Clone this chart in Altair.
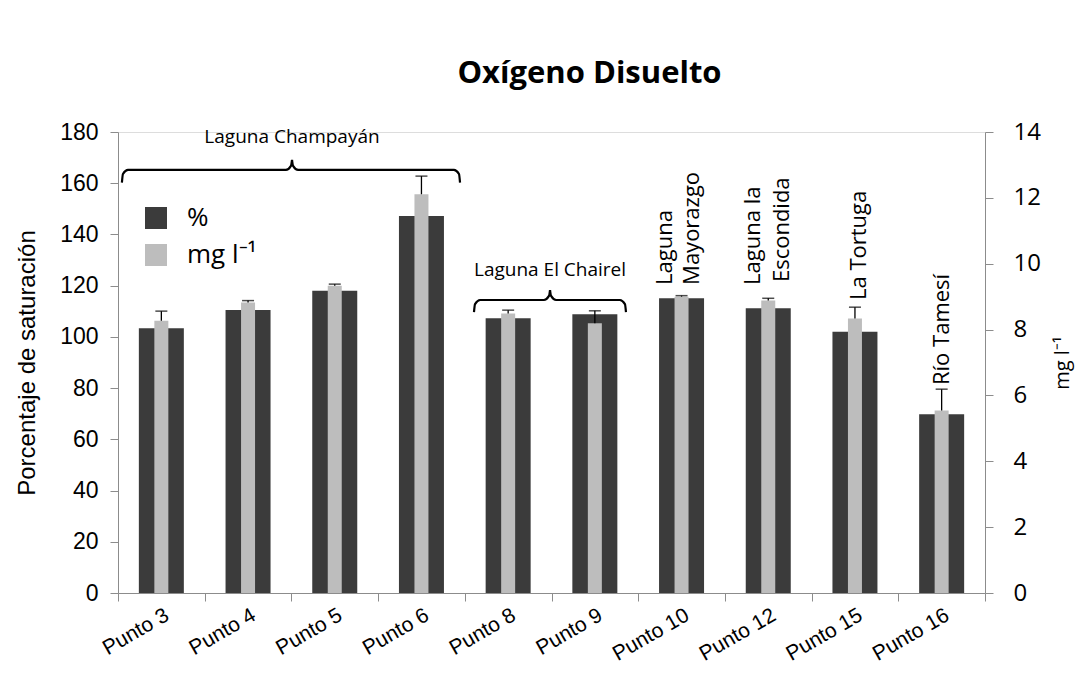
import altair as alt
import pandas as pd

puntos = ["Punto 3", "Punto 4", "Punto 5", "Punto 6", "Punto 8",
          "Punto 9", "Punto 10", "Punto 12", "Punto 15", "Punto 16"]
pct = [103.4, 110.5, 118.0, 147.2, 107.3, 108.8, 115.1, 111.2, 102.0, 69.8]
mg = [8.27, 8.82, 9.33, 12.11, 8.49, 8.19, 9.00, 8.88, 8.34, 5.54]
mg_err = [0.29, 0.06, 0.05, 0.55, 0.10, 0.38, 0.03, 0.07, 0.34, 0.65]

series = ["%", "mg l\u207b\u00b9"]
colors = ["#3b3b3b", "#bdbdbd"]

# braces: (left x, mid x, right x, line y, hook y, tip y) in category-index / % units
braces = [
    (-0.455, 1.507, 3.445, 165.2, 160.2, 169.1),
    (3.606, 4.483, 5.359, 114.4, 109.7, 118.3),
]
h_labels = ["Laguna Champayán", "Laguna El Chairel"]
h_label_x = [1.507, 4.483]
h_label_y = [178.0, 126.1]

v_labels = ["Laguna", "Mayorazgo", "Laguna la", "Escondida", "La Tortuga", "Río Tamesí"]
v_label_x = [5.809, 6.121, 6.824, 7.159, 8.047, 9.004]
v_label_y = [120.3, 120.3, 120.3, 121.4, 114.4, 81.2]

df = pd.DataFrame({"punto": puntos, "pct": pct, "mg": mg,
                   "mg_hi": [m + e for m, e in zip(mg, mg_err)]})
df["s1"] = series[0]
df["s2"] = series[1]

rows = []
for i, (xl, xm, xr, yl, yh, yt) in enumerate(braces):
    left = [(xl, yh), (xl + 0.012, yl - 1.6), (xl + 0.07, yl), (xm - 0.07, yl), (xm - 0.012, yl + 1.6), (xm, yt)]
    right = [(xm, yt), (xm + 0.012, yl + 1.6), (xm + 0.07, yl), (xr - 0.07, yl), (xr - 0.012, yl - 1.6), (xr, yh)]
    for j, pts in enumerate([left, right]):
        for k, (x, y) in enumerate(pts):
            rows.append({"seg": f"{i}-{j}", "o": k, "bx": x, "by": y})
brace_df = pd.DataFrame(rows)
hl_df = pd.DataFrame({"t": h_labels, "x": h_label_x, "y": h_label_y})
vl_df = pd.DataFrame({"t": v_labels, "x": v_label_x, "y": v_label_y})

xs = alt.Scale(domain=puntos, paddingInner=0, paddingOuter=0)
ys_pct = alt.Scale(domain=[0, 180], nice=False, zero=True)
ys_mg = alt.Scale(domain=[0, 14], nice=False, zero=True)
xq = alt.Scale(domain=[-0.5, 9.5], nice=False, zero=False)

base = alt.Chart(df)

dark = base.mark_bar(size=45).encode(
    x=alt.X("punto:N", scale=xs, sort=puntos,
            axis=alt.Axis(title=None, labelAngle=330, labelAlign="right", labelBaseline="top",
                          labelFontSize=21, labelFont="Liberation Sans", labelColor="black",
                          tickBand="extent", tickSize=8, tickColor="#8c8c8c", domainColor="#8c8c8c",
                          labelPadding=3)),
    y=alt.Y("pct:Q", scale=ys_pct,
            axis=alt.Axis(title="Porcentaje de saturación", values=list(range(0, 181, 20)),
                          grid=False, labelFontSize=23, labelFont="Liberation Sans", labelColor="black",
                          tickSize=8, tickColor="#8c8c8c", domainColor="#8c8c8c", labelPadding=12,
                          titleFont="Liberation Sans", titleFontSize=24, titleFontWeight="normal",
                          titleColor="black", titlePadding=20)),
    color=alt.Color("s1:N", scale=alt.Scale(domain=series, range=colors),
                    legend=alt.Legend(orient="none", legendX=25, legendY=73, title=None,
                                      symbolType="square", symbolSize=484, symbolStrokeWidth=0,
                                      labelFontSize=26, labelFont="Open Sans", labelColor="black",
                                      rowPadding=11, labelOffset=18, padding=0)),
)

gray = base.mark_bar(size=14).encode(
    x=alt.X("punto:N", scale=xs, sort=puntos, axis=None),
    y=alt.Y("mg:Q", scale=ys_mg,
            axis=alt.Axis(orient="right", title="mg l\u207b\u00b9", values=list(range(0, 15, 2)),
                          grid=False, labelFontSize=24, labelFont="Open Sans", labelColor="black",
                          tickSize=8, tickColor="#8c8c8c", domainColor="#8c8c8c", labelPadding=20,
                          titleFont="Open Sans", titleFontSize=20, titleFontWeight="normal",
                          titleColor="black", titleAngle=270, titlePadding=32)),
    color=alt.Color("s2:N", scale=alt.Scale(domain=series, range=colors), legend=None),
)

err = base.mark_rule(color="black", strokeWidth=1.3).encode(
    x=alt.X("punto:N", scale=xs, sort=puntos, axis=None),
    y=alt.Y("mg:Q", scale=ys_mg, axis=None),
    y2="mg_hi:Q",
)
cap = base.mark_tick(orient="horizontal", size=12, thickness=1.5, color="black").encode(
    x=alt.X("punto:N", scale=xs, sort=puntos, axis=None),
    y=alt.Y("mg_hi:Q", scale=ys_mg, axis=None),
)

brace = alt.Chart(brace_df).mark_line(color="black", strokeWidth=2.2, interpolate="monotone").encode(
    x=alt.X("bx:Q", scale=xq, axis=None),
    y=alt.Y("by:Q", scale=ys_pct, axis=None),
    detail="seg:N",
    order="o:Q",
)
htext = alt.Chart(hl_df).mark_text(font="Open Sans", fontSize=19, color="black",
                                   align="center", baseline="middle").encode(
    x=alt.X("x:Q", scale=xq, axis=None),
    y=alt.Y("y:Q", scale=ys_pct, axis=None),
    text="t:N",
)
vtext = alt.Chart(vl_df).mark_text(font="Open Sans", fontSize=22, color="black", angle=270,
                                   align="left", baseline="middle").encode(
    x=alt.X("x:Q", scale=xq, axis=None),
    y=alt.Y("y:Q", scale=ys_pct, axis=None),
    text="t:N",
)

chart = alt.layer(dark, gray, err, cap, brace, htext, vtext).resolve_scale(
    x="independent", y="independent"
).properties(
    width=867, height=461,
    padding={"left": 110, "top": 124, "right": 93, "bottom": 85},
    autosize=alt.AutoSizeParams(type="none"),
    title=alt.TitleParams("Oxígeno Disuelto", font="Open Sans", fontSize=31, fontWeight="bold",
                          color="black", anchor="middle", dx=38, offset=30),
).configure_view(stroke=None).configure(background="white")

chart.save("out.html", embed_options={"renderer": "svg", "actions": False})
